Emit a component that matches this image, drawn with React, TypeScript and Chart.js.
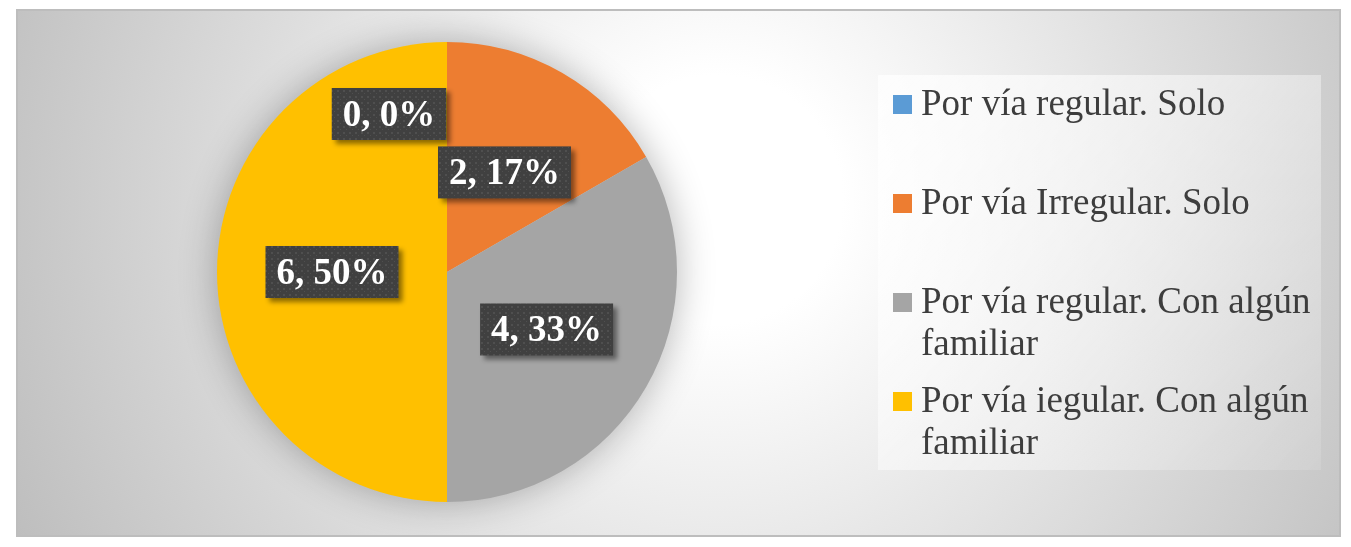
import React, { useEffect, useRef } from "react";
import { Chart, registerables } from "chart.js";

Chart.register(...registerables);

const categories = [
  "Por vía regular. Solo",
  "Por vía Irregular. Solo",
  "Por vía regular. Con algún familiar",
  "Por vía iegular. Con algún familiar",
];
const values = [0, 2, 4, 6];
const sliceColors = ["#5b9bd5", "#ed7d31", "#a5a5a5", "#ffc000"];

const W = 1321;
const H = 524;

function makePattern(ctx: CanvasRenderingContext2D) {
  const c = document.createElement("canvas");
  c.width = 6;
  c.height = 6;
  const p = c.getContext("2d")!;
  p.fillStyle = "#404040";
  p.fillRect(0, 0, 6, 6);
  p.fillStyle = "#4f4f4f";
  p.fillRect(1, 1, 2, 2);
  p.fillRect(4, 4, 1, 1);
  return ctx.createPattern(c, "repeat");
}

const pieGlow = {
  id: "pieGlow",
  beforeDatasetsDraw(chart: any) {
    const arc = chart.getDatasetMeta(0).data[0];
    if (!arc) return;
    const ctx = chart.ctx;
    ctx.save();
    ctx.shadowColor = "rgba(0,0,0,0.3)";
    ctx.shadowBlur = 38;
    ctx.fillStyle = "#cccccc";
    ctx.beginPath();
    ctx.arc(arc.x, arc.y, arc.outerRadius - 1, 0, Math.PI * 2);
    ctx.fill();
    ctx.restore();
  },
};

const boxLabels = {
  id: "boxLabels",
  afterDatasetsDraw(chart: any, _args: any, opts: any) {
    const ctx: CanvasRenderingContext2D = chart.ctx;
    const data: number[] = chart.data.datasets[0].data;
    const total = data.reduce((a, b) => a + b, 0);
    const pattern = makePattern(ctx);
    const nudge = opts.nudge || {};
    chart.getDatasetMeta(0).data.forEach((arc: any, i: number) => {
      const mid = (arc.startAngle + arc.endAngle) / 2;
      const r = arc.outerRadius * 0.5;
      let x = arc.x + Math.cos(mid) * r;
      let y = arc.y + Math.sin(mid) * r;
      if (nudge[i]) {
        x += nudge[i][0];
        y += nudge[i][1];
      }
      const text = `${data[i]}, ${Math.round((data[i] / total) * 100)}%`;
      ctx.save();
      ctx.font = "bold 37px 'Liberation Serif', 'Times New Roman', serif";
      const tw = ctx.measureText(text).width;
      const bw = tw + 22;
      const bh = 52;
      const bx = x - bw / 2;
      const by = y - bh / 2;
      ctx.shadowColor = "rgba(0,0,0,0.45)";
      ctx.shadowBlur = 5;
      ctx.shadowOffsetX = 4;
      ctx.shadowOffsetY = 4;
      ctx.fillStyle = pattern || "#404040";
      ctx.fillRect(bx, by, bw, bh);
      ctx.shadowColor = "transparent";
      ctx.fillStyle = "#ffffff";
      ctx.textAlign = "center";
      ctx.textBaseline = "middle";
      ctx.fillText(text, x, y + 2);
      ctx.restore();
    });
  },
};

const sideLegend = {
  id: "sideLegend",
  afterDraw(chart: any, _args: any, opts: any) {
    const ctx: CanvasRenderingContext2D = chart.ctx;
    const { left, top, width, height } = opts.box;
    ctx.save();
    const g = ctx.createLinearGradient(left, top, left + width, top + height);
    g.addColorStop(0, "rgba(255,255,255,0.75)");
    g.addColorStop(1, "rgba(255,255,255,0.12)");
    ctx.fillStyle = g;
    ctx.fillRect(left, top, width, height);
    ctx.font = "37px 'Liberation Serif', 'Times New Roman', serif";
    ctx.textBaseline = "alphabetic";
    ctx.textAlign = "left";
    const labels: string[] = chart.data.labels;
    const colors: string[] = chart.data.datasets[0].backgroundColor;
    const textX = left + 43;
    const maxW = left + width - textX - 2;
    labels.forEach((lab, i) => {
      const base = top + 40 + i * 99;
      ctx.fillStyle = colors[i];
      ctx.fillRect(left + 15, base - 20, 19, 19);
      const words = lab.split(" ");
      const lines: string[] = [];
      let cur = "";
      words.forEach((w) => {
        const t = cur ? cur + " " + w : w;
        if (ctx.measureText(t).width > maxW && cur) {
          lines.push(cur);
          cur = w;
        } else cur = t;
      });
      if (cur) lines.push(cur);
      ctx.fillStyle = "#3d3d3d";
      lines.forEach((ln, j) => ctx.fillText(ln, textX, base + j * 42));
    });
    ctx.restore();
  },
};

export default function App() {
  const ref = useRef<HTMLCanvasElement>(null);
  useEffect(() => {
    if (!ref.current) return;
    const chart = new Chart(ref.current, {
      type: "pie",
      data: {
        labels: categories,
        datasets: [
          {
            data: values,
            backgroundColor: sliceColors,
            borderWidth: 0,
          },
        ],
      },
      options: {
        animation: false,
        responsive: false,
        events: [],
        layout: { padding: { left: 199, right: 662, top: 31, bottom: 33 } },
        plugins: {
          legend: { display: false },
          tooltip: { enabled: false },
          boxLabels: { nudge: { 0: [-58, -43] } },
          sideLegend: { box: { left: 860, top: 64, width: 443, height: 395 } },
        } as any,
      },
      plugins: [pieGlow, boxLabels, sideLegend],
    });
    return () => chart.destroy();
  }, []);
  return (
    <div
      style={{
        position: "absolute",
        left: 16,
        top: 9,
        width: 1325,
        height: 528,
        boxSizing: "border-box",
        border: "2px solid #bdbdbd",
        background:
          "radial-gradient(circle farthest-corner at 53% 36%, #ffffff 0%, #ffffff 16%, #bebebe 100%)",
      }}
    >
      <canvas
        ref={ref}
        width={W}
        height={H}
        style={{ position: "absolute", left: 0, top: 0, width: W, height: H }}
      />
    </div>
  );
}
